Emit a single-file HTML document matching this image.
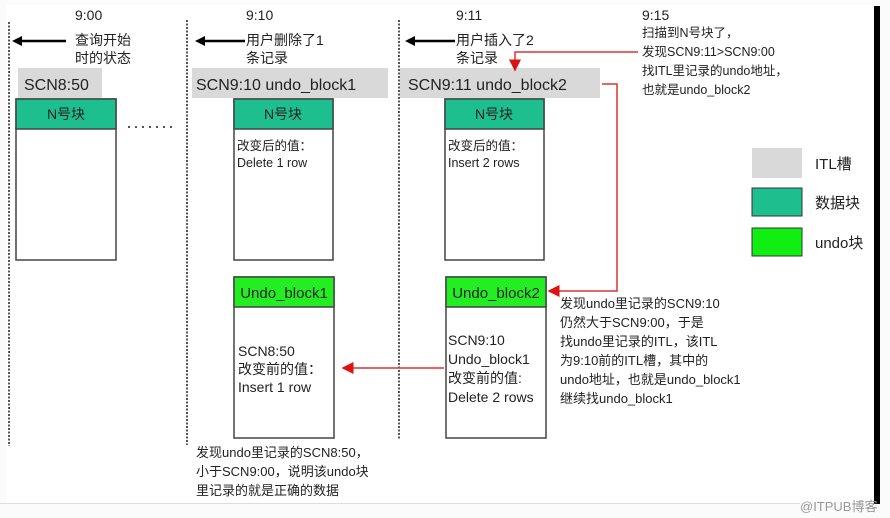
<!DOCTYPE html>
<html><head><meta charset="utf-8"><style>
body{margin:0;width:890px;height:518px;background:#fbfbfb;overflow:hidden}
svg{position:absolute;left:0;top:0}
text{font-family:"Liberation Sans","Noto Sans CJK SC",sans-serif;fill:#222}
</style></head><body>
<svg width="890" height="518" viewBox="0 0 890 518">
<rect x="6" y="5" width="870" height="498" fill="#fff"/>
<line x1="0" y1="503.5" x2="800" y2="503.5" stroke="#ddd"/>
<rect x="874" y="6" width="6" height="498" fill="#000"/>
<text x="800" y="511" font-size="13" style="fill:#999">@ITPUB博客</text>
<g stroke="#555" stroke-width="2" stroke-dasharray="2,1.5">
<line x1="9" y1="22" x2="9" y2="446"/>
<line x1="187" y1="20" x2="187" y2="445"/>
<line x1="399" y1="20" x2="399" y2="440"/>
<line x1="128" y1="127" x2="176" y2="127" stroke-dasharray="2,5"/>
</g>
<defs>
<marker id="r" markerWidth="8" markerHeight="8" refX="7" refY="4" orient="auto"><path d="M0,0 L8,4 L0,8z" fill="#d11"/></marker></defs>
<g stroke="#000" stroke-width="2.5">
<line x1="66" y1="41" x2="18" y2="41"/>
<line x1="245" y1="41" x2="200" y2="41"/>
<line x1="455" y1="41" x2="410" y2="41"/>
</g>
<path d="M12,41 l10,-5 v10z M195,41 l10,-5 v10z M405,41 l10,-5 v10z" fill="#000"/>
<g font-size="14">
<text x="75" y="20">9:00</text><text x="75" y="45">查询开始</text><text x="75" y="63">时的状态</text>
<text x="246" y="20">9:10</text><text x="246" y="45">用户删除了1</text><text x="246" y="63">条记录</text>
<text x="456" y="20">9:11</text><text x="456" y="45">用户插入了2</text><text x="456" y="63">条记录</text>
</g>
<g font-size="12.5">
<text x="642" y="20" font-size="14">9:15</text>
<text x="642" y="37">扫描到N号块了，</text><text x="642" y="56">发现SCN9:11&gt;SCN9:00</text>
<text x="642" y="75">找ITL里记录的undo地址，</text><text x="642" y="94">也就是undo_block2</text>
</g>
<rect x="18" y="68" width="84" height="30" fill="#d9d9d9"/>
<rect x="192" y="68" width="196" height="30" fill="#d9d9d9"/>
<rect x="400" y="68" width="200" height="30" fill="#d9d9d9"/>
<g font-size="16"><text x="24" y="90">SCN8:50</text><text x="196" y="90">SCN9:10 undo_block1</text><text x="408" y="90">SCN9:11 undo_block2</text></g>
<g stroke="#444" stroke-width="1.5" fill="#fff">
<rect x="16" y="99" width="100" height="161"/><rect x="234" y="99" width="99" height="161"/><rect x="445" y="99" width="99" height="161"/>
<rect x="234" y="277" width="100" height="161"/><rect x="446" y="277" width="100" height="161"/>
</g>
<g stroke="#444" stroke-width="1.5" fill="#1dbf8f">
<rect x="16" y="99" width="100" height="30"/><rect x="234" y="99" width="99" height="30"/><rect x="445" y="99" width="99" height="30"/>
</g>
<g stroke="#444" stroke-width="1.5" fill="#22ee22">
<rect x="234" y="277" width="100" height="30"/><rect x="446" y="277" width="100" height="30"/>
</g>
<g font-size="14" text-anchor="middle"><text x="66" y="119">N号块</text><text x="283" y="119">N号块</text><text x="494" y="119">N号块</text>
<text x="284" y="298" font-size="15">Undo_block1</text><text x="496" y="298" font-size="15">Undo_block2</text></g>
<g font-size="12.5">
<text x="237" y="150">改变后的值：</text><text x="237" y="167">Delete 1 row</text>
<text x="448" y="150">改变后的值：</text><text x="448" y="167">Insert 2 rows</text>
</g>
<g font-size="14">
<text x="238" y="356">SCN8:50</text><text x="238" y="374">改变前的值：</text><text x="238" y="392">Insert 1 row</text>
<text x="448" y="345">SCN9:10</text><text x="448" y="364">Undo_block1</text><text x="448" y="383">改变前的值:</text><text x="448" y="402">Delete 2 rows</text>
</g>
<g font-size="13">
<text x="560" y="308">发现undo里记录的SCN9:10</text><text x="560" y="327">仍然大于SCN9:00，于是</text>
<text x="560" y="346">找undo里记录的ITL，该ITL</text><text x="560" y="365">为9:10前的ITL槽，其中的</text>
<text x="560" y="384">undo地址，也就是undo_block1</text><text x="560" y="403">继续找undo_block1</text>
<text x="196" y="457">发现undo里记录的SCN8:50，</text><text x="196" y="476">小于SCN9:00，说明该undo块</text><text x="196" y="495">里记录的就是正确的数据</text>
</g>
<g stroke="#d33" stroke-width="1.5" fill="none">
<polyline points="638,52 515,52 515,70" marker-end="url(#r)"/>
<polyline points="602,84 617,84 617,291 549,291" marker-end="url(#r)"/>
<line x1="444" y1="368" x2="343" y2="368" marker-end="url(#r)"/>
</g>
<rect x="752" y="148" width="50" height="30" fill="#d9d9d9"/>
<rect x="752" y="188" width="50" height="28" fill="#1dbf8f" stroke="#333"/>
<rect x="752" y="228" width="50" height="28" fill="#11ee11" stroke="#333"/>
<g font-size="15"><text x="815" y="169">ITL槽</text><text x="815" y="208">数据块</text><text x="815" y="248">undo块</text></g>
</svg>
</body></html>
